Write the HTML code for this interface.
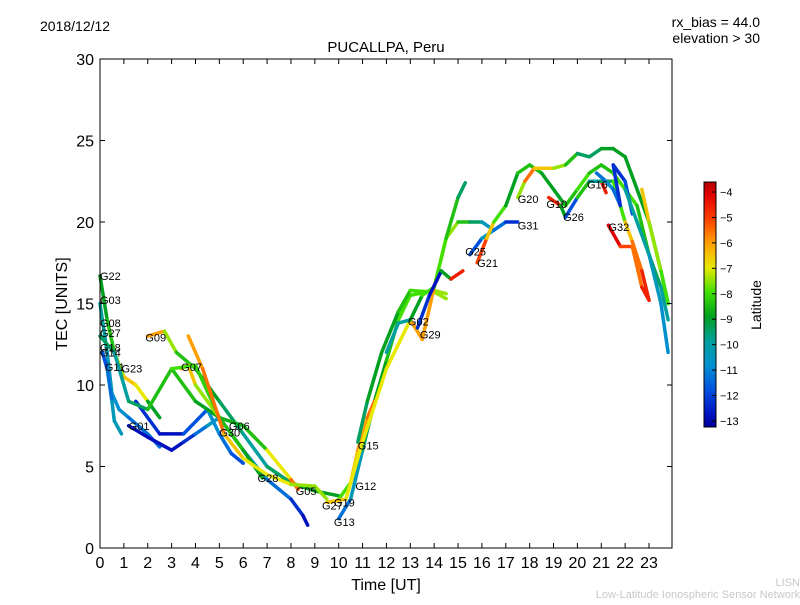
<!DOCTYPE html>
<html><head><meta charset="utf-8"><style>
body{margin:0;background:#fff;font-family:"Liberation Sans","DejaVu Sans",sans-serif}
#wrap{position:relative;width:800px;height:600px}
</style></head><body>
<div id="wrap">
<svg id="svg" width="800" height="600" xmlns="http://www.w3.org/2000/svg">
<defs><linearGradient id="jet" x1="0" y1="1" x2="0" y2="0">
<stop offset="0" stop-color="#00009a"/><stop offset="0.05" stop-color="#0010c0"/><stop offset="0.15" stop-color="#0050e0"/><stop offset="0.25" stop-color="#0090d0"/><stop offset="0.35" stop-color="#00a0a0"/><stop offset="0.45" stop-color="#00a020"/><stop offset="0.55" stop-color="#40e000"/><stop offset="0.65" stop-color="#e8e800"/><stop offset="0.75" stop-color="#ffa000"/><stop offset="0.85" stop-color="#ff4000"/><stop offset="0.95" stop-color="#e00000"/><stop offset="1" stop-color="#b00000"/></linearGradient></defs>
<text x="40" y="31" font-size="14">2018/12/12</text>
<text x="760" y="27" font-size="14" text-anchor="end">rx_bias = 44.0</text>
<text x="760" y="43" font-size="14" text-anchor="end">elevation &gt; 30</text>
<text x="386" y="52" font-size="15" text-anchor="middle">PUCALLPA, Peru</text>
<g id="marks"></g>
<rect x="100" y="59" width="572" height="489" fill="none" stroke="#000" stroke-width="1"/>
<g id="axes"></g>
<text x="386" y="590" font-size="16" text-anchor="middle">Time [UT]</text>
<text transform="translate(67,304) rotate(-90)" font-size="16" text-anchor="middle">TEC [UNITS]</text>
<rect x="704" y="182" width="12" height="245" fill="url(#jet)" stroke="#000" stroke-width="1"/>
<g id="cbar"></g>
<text transform="translate(761,305) rotate(-90)" font-size="14" text-anchor="middle">Latitude</text>
<text x="800" y="586" font-size="11" fill="#c8c8c8" text-anchor="end">LISN</text>
<text x="800" y="598" font-size="11" fill="#c8c8c8" text-anchor="end">Low-Latitude Ionospheric Sensor Network</text>
</svg></div>
<script>
const xTicks=[0,1,2,3,4,5,6,7,8,9,10,11,12,13,14,15,16,17,18,19,20,21,22,23];
const yTicks=[0,5,10,15,20,25,30];
const cTicks=[-4,-5,-6,-7,-8,-9,-10,-11,-12,-13];
const trackNames=["G22","G03","G11","G01","G30","G17","G09","G07","G06","G28","G13","G12","G15","G29","G02","G05","G25","G21","G20","G10","G16","G32","G26","G31","G08"];
const tracks=[
[[0,16.7,-9],[0.3,14,-9],[0.6,12,-8],[1,10.5,-7],[1.5,10,-6],[2,9,-8],[2.5,8,-10]],
[[0,15,-10],[0.3,12,-10],[0.5,9.5,-11],[0.8,8.5,-11],[1.2,8,-11],[2,7,-12],[2.5,6.2,-11]],
[[0.1,12,-12],[0.3,11,-12],[0.5,9,-11],[0.6,7.8,-10],[0.9,7,-11]],
[[1.2,7.5,-13],[2,6.8,-13],[3,6,-13],[3.5,6.5,-13],[4,7,-12],[4.5,7.5,-11],[5,8,-10]],
[[1.5,9,-12],[2.5,7,-13],[3.5,7,-13],[4.5,8.5,-11],[5,7,-11],[5.5,5.8,-12],[6,5.2,-12]],
[[0,13,-9],[0.6,12,-10],[1.2,9,-10],[2,8.5,-9],[3,11,-8],[4,9,-9],[5,8,-9],[6,6,-10],[7,4.2,-11],[8,3,-12],[8.5,2,-13],[8.7,1.4,-13]],
[[2,13,-5],[2.7,13.3,-7],[3.2,12,-8],[4,11,-9],[5,9,-9],[6,7,-10],[7,5,-10],[8,4,-9],[9,3.5,-9],[10,3.2,-9]],
[[3.4,11,-6],[3.7,11.2,-6],[4,10,-7],[5,8,-8],[6,6,-9],[6.8,4.3,-9]],
[[3,11,-8],[4,11.2,-8],[5,8,-8.5],[6,7.5,-9],[7,6,-8],[8,4.2,-6],[8.3,3.6,-5]],
[[3.7,13,-7],[4.3,11,-5],[5.2,7,-6],[6,5.5,-7],[7,4.5,-7],[8,3.9,-7],[9,3.8,-8],[9.5,3,-7]],
[[10,1.8,-12],[10.5,3,-11],[11,6,-10],[11.5,9,-9],[12,11.5,-9],[12.5,14,-8],[13,15.5,-8],[14,15.8,-8],[14.5,15.6,-7]],
[[10,3,-9],[10.5,4,-7],[10.8,6,-6],[11.2,8,-6],[11.5,9,-5]],
[[10.8,6.5,-10],[11.2,9,-9],[11.8,12,-9],[12.5,14.5,-9],[13,15.8,-8],[14,15.7,-8],[14.5,15.3,-7]],
[[9.5,2.8,-6],[10.3,3,-7],[11,6.5,-7],[12,11,-7],[13,14,-7],[13.5,12.8,-5],[14,16,-7],[14.5,19,-7],[15,20,-8],[15.5,20,-9],[16,20,-10],[16.5,19.5,-11]],
[[12,12,-10],[12.5,13.8,-10],[13,14,-10],[13.5,15.5,-8],[14,16,-8],[14.5,19,-8],[15,21.5,-9],[15.3,22.4,-10]],
[[13.3,13.5,-12],[13.8,15.5,-13],[14.3,17,-13],[14.7,16.5,-5],[15.2,17,-4]],
[[15.5,18,-13],[16,19,-11],[16.5,19.5,-10],[17,20,-13],[17.5,20,-12]],
[[15.8,17.5,-4],[16.2,19,-6],[16.5,20,-7],[17,21,-9],[17.5,23,-9],[18,23.5,-8],[18.5,23,-9],[19,22,-9],[19.5,21,-9],[20,22,-8],[20.5,23,-8],[21,23.5,-9],[21.5,23,-8],[22,22,-8],[22.5,21,-8],[23,18,-9],[23.5,16,-10],[23.8,14,-10]],
[[17.5,21.5,-10],[17.8,22.5,-5],[18.2,23.3,-6],[19,23.3,-7],[19.5,23.5,-8],[20,24.2,-9],[20.5,24,-10],[21,24.5,-9],[21.5,24.5,-9],[22,24,-9],[22.5,22,-9],[23,20,-9],[23.5,17,-9],[23.8,15,-9]],
[[18.8,21.5,-4],[19.3,21,-5],[19.5,20.3,-13],[20,21.5,-11],[20.5,22.5,-6],[21,22.5,-5],[21.2,21.8,-4]],
[[20.5,22.5,-10],[21,22.5,-10],[21.5,22.5,-9],[22,20,-7],[22.3,18.8,-6],[22.7,17,-5],[23,15.2,-4]],
[[21.3,19.8,-4],[21.8,18.5,-4],[22.3,18.5,-6],[22.7,16,-5],[23,15.2,-4]],
[[20.8,23,-12],[21.2,22.5,-11],[21.5,22,-11],[21.8,21,-12],[21.5,23.5,-13],[22,22.5,-12],[22.3,20.5,-12]],
[[22.7,22,-6],[23,20,-7],[23.5,17,-8],[23.8,15,-8]],
[[22,22,-10],[22.5,20,-10],[23,18,-10],[23.5,15,-11],[23.8,12,-11]]
];
const labels=[["G22",0,16.7],["G03",0,15.2],["G08",0,13.8],["G27",0,13.2],["G18",0,12.3],["G14",0,12],["G11",0.2,11.1],["G23",0.9,11],["G09",1.9,12.9],["G07",3.4,11.1],["G01",1.2,7.5],["G06",5.4,7.5],["G30",5,7.1],["G28",6.6,4.3],["G05",8.2,3.5],["G27",9.3,2.6],["G19",9.8,2.8],["G13",9.8,1.6],["G12",10.7,3.8],["G15",10.8,6.3],["G02",12.9,13.9],["G29",13.4,13.1],["G25",15.3,18.2],["G21",15.8,17.5],["G20",17.5,21.4],["G10",18.7,21.1],["G31",17.5,19.8],["G26",19.4,20.3],["G16",20.4,22.3],["G32",21.3,19.7]];
const X=t=>100+t*23.87, Y=v=>548-v*16.3;
const CY=l=>192+(-4-l)*(421-192)/9;
const cmapLat=[-13.5,-13,-12,-11,-10,-9,-8,-7,-6,-5,-4,-3.5];
const cmapCol=[[0,0,154],[0,16,192],[0,80,224],[0,144,208],[0,160,160],[0,160,32],[64,224,0],[232,232,0],[255,160,0],[255,64,0],[224,0,0],[176,0,0]];
function jet(l){l=Math.max(-13.5,Math.min(-3.5,l));
 for(let i=0;i<cmapLat.length-1;i++){if(l<=cmapLat[i+1]){const f=(l-cmapLat[i])/(cmapLat[i+1]-cmapLat[i]);
  const a=cmapCol[i],b=cmapCol[i+1];return `rgb(${a.map((v,k)=>Math.round(v+(b[k]-v)*f)).join(',')})`;}}
 return 'rgb(176,0,0)';}
const NS="http://www.w3.org/2000/svg";
const marks=document.getElementById('marks');
tracks.forEach((tr,i)=>{
 const g=document.createElementNS(NS,'g');
 
 
 for(let k=0;k<tr.length-1;k++){
  const p=tr[k],q=tr[k+1];
  const ln=document.createElementNS(NS,'line');
  ln.setAttribute('x1',X(p[0]));ln.setAttribute('y1',Y(p[1]));
  ln.setAttribute('x2',X(q[0]));ln.setAttribute('y2',Y(q[1]));
  ln.setAttribute('stroke',jet((p[2]+q[2])/2));ln.setAttribute('stroke-width','3.5');ln.setAttribute('stroke-linecap','round');
  
  
  g.appendChild(ln);}
 marks.appendChild(g);});
labels.forEach(l=>{
 const t=document.createElementNS(NS,'text');
 t.setAttribute('x',X(l[1]));t.setAttribute('y',Y(l[2])+4);t.setAttribute('font-size','11');t.textContent=l[0];
 
 
 marks.appendChild(t);});
const axes=document.getElementById('axes');
function add(el,attrs,txt){const e=document.createElementNS(NS,el);for(const k in attrs)e.setAttribute(k,attrs[k]);if(txt!==undefined)e.textContent=txt;return e;}
xTicks.forEach(t=>{
 const l=add('line',{x1:X(t),x2:X(t),y1:548,y2:543,stroke:'#000'});
 
 
 axes.appendChild(l);
 const l2=add('line',{x1:X(t),x2:X(t),y1:59,y2:64,stroke:'#000'});
 
 
 axes.appendChild(l2);
 const tx=add('text',{x:X(t),y:568,'font-size':16,'text-anchor':'middle'},t);
 
 
 axes.appendChild(tx);});
yTicks.forEach(v=>{
 const l=add('line',{x1:100,x2:105,y1:Y(v),y2:Y(v),stroke:'#000'});
 
 
 axes.appendChild(l);
 const l2=add('line',{x1:667,x2:672,y1:Y(v),y2:Y(v),stroke:'#000'});
 
 
 axes.appendChild(l2);
 const tx=add('text',{x:94,y:Y(v)+6,'font-size':16,'text-anchor':'end'},v);
 
 
 axes.appendChild(tx);});
const cb=document.getElementById('cbar');
cTicks.forEach(v=>{
 const l=add('line',{x1:712,x2:716,y1:CY(v),y2:CY(v),stroke:'#000'});
 
 
 cb.appendChild(l);
 const tx=add('text',{x:720,y:CY(v)+4,'font-size':11},'\u2212'+Math.abs(v));
 
 
 cb.appendChild(tx);});
</script>
</body></html>
